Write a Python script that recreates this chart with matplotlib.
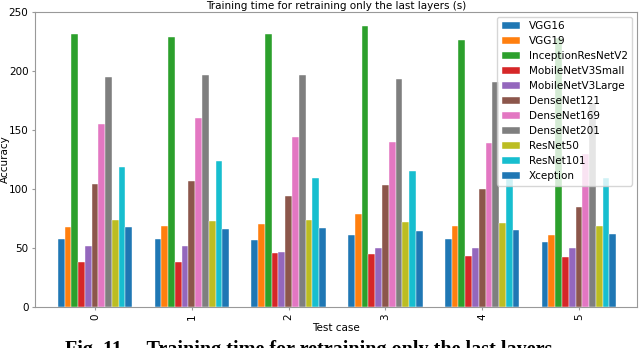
import numpy as np
import matplotlib
matplotlib.use("Agg")
import matplotlib.pyplot as plt

# Training time (s) per test case
test_cases = ["0", "1", "2", "3", "4", "5"]
models = ["VGG16", "VGG19", "InceptionResNetV2", "MobileNetV3Small",
          "MobileNetV3Large", "DenseNet121", "DenseNet169", "DenseNet201",
          "ResNet50", "ResNet101", "Xception"]

vgg16 = [58, 58, 57, 61, 58, 55]
vgg19 = [68, 69, 70, 79, 69, 61]
inception_resnet_v2 = [231, 229, 231, 238, 226, 228]
mobilenet_v3_small = [38, 38, 46, 45, 43, 42]
mobilenet_v3_large = [52, 52, 47, 50, 50, 50]
densenet121 = [104, 107, 94, 103, 100, 85]
densenet169 = [155, 160, 144, 140, 139, 130]
densenet201 = [195, 197, 197, 193, 191, 173]
resnet50 = [74, 73, 74, 72, 71, 69]
resnet101 = [119, 124, 109, 115, 113, 109]
xception = [68, 66, 67, 64, 65, 62]

series = [vgg16, vgg19, inception_resnet_v2, mobilenet_v3_small,
          mobilenet_v3_large, densenet121, densenet169, densenet201,
          resnet50, resnet101, xception]
colors = ["tab:blue", "tab:orange", "tab:green", "tab:red", "tab:purple",
          "tab:brown", "tab:pink", "tab:gray", "tab:olive", "tab:cyan",
          "tab:blue"]

fs = 7.5
fig = plt.figure(figsize=(6.4, 3.48), dpi=100)
ax = fig.add_axes([35 / 640, 1 - 307 / 348, 602 / 640, 295 / 348])

x = np.arange(len(test_cases))
w = 0.07
n = len(series)
for i, (vals, name, c) in enumerate(zip(series, models, colors)):
    ax.bar(x + (i - (n - 1) / 2) * w, vals, w, label=name, color=c,
           edgecolor="white", linewidth=0.3)

ax.set_xlim(-0.62, 5.6)
ax.set_ylim(0, 250)
ax.set_xticks(x)
ax.set_xticklabels(test_cases, rotation=90, fontsize=fs)
ax.tick_params(labelsize=fs, length=2.5, pad=2.2, color="#999999")
ax.set_xlabel("Test case", fontsize=fs, labelpad=2)
ax.set_ylabel("Accuracy", fontsize=fs)
ax.yaxis.set_label_coords(-0.041, 0.5)
ax.set_title("Training time for retraining only the last layers (s)",
             fontsize=fs, pad=2)
for s in ax.spines.values():
    s.set_color("#999999")
ax.legend(loc="upper right", fontsize=fs, handlelength=1.8,
          labelspacing=0.48, borderpad=0.4)

fig.text(0.101, -0.035, "Fig. 11.    Training time for retraining only the last layers",
         fontsize=14.5, fontweight="bold", family="Liberation Serif",
         va="bottom", ha="left")

fig.savefig("out.png", dpi=100)
